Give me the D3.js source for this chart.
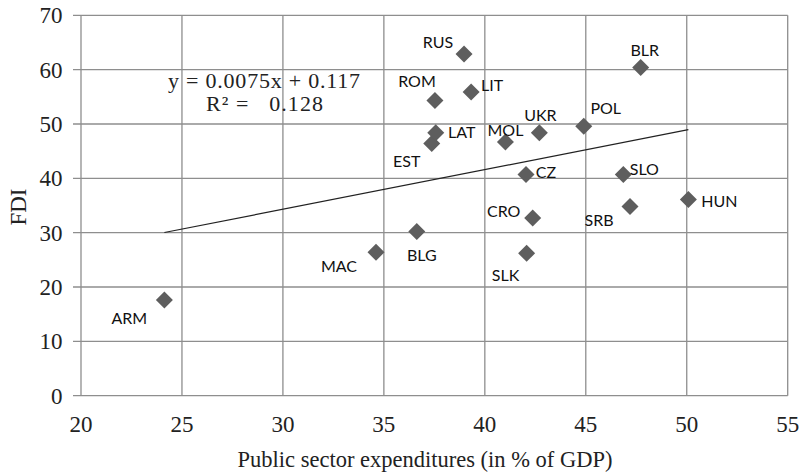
<!DOCTYPE html>
<html>
<head>
<meta charset="utf-8">
<script src="https://cdn.jsdelivr.net/npm/d3@7"></script>
<style>
  html, body { margin: 0; padding: 0; background: #fff; }
  svg { display: block; }
</style>
</head>
<body>
<svg id="chart" width="801" height="472"></svg>
<script>
// ---- data ----
const countries = ["ARM","MAC","BLG","SLK","CRO","CZ","MOL","UKR","EST","LAT","ROM","LIT","RUS","POL","SLO","SRB","BLR","HUN"];
const expenditures = [24.13, 34.61, 36.63, 42.07, 42.37, 42.04, 41.02, 42.70, 37.37, 37.57, 37.53, 39.32, 38.97, 44.90, 46.86, 47.19, 47.72, 50.08];
const fdi = [17.6, 26.4, 30.2, 26.2, 32.7, 40.7, 46.7, 48.4, 46.4, 48.4, 54.3, 55.9, 62.9, 49.6, 40.7, 34.8, 60.4, 36.1];
// label offsets (text centre relative to point, px)
const labelDx = [-35, -37, 5, -21, -29, 20, 0, 1, -25, 26, -18, 21, -26, 22, 21, -31, 4, 31];
const labelDy = [18, 14, 24, 22, -7, -2, -12, -17, 18, 0, -19, -7, -11, -18, -5, 14, -17, 2];
const xTicks = [20, 25, 30, 35, 40, 45, 50, 55];
const yTicks = [0, 10, 20, 30, 40, 50, 60, 70];
const eqLine1 = "y = 0.0075x + 0.117";
const eqLine2 = "R\u00B2 =   0.128";
const xTitle = "Public sector expenditures (in % of GDP)";
const yTitle = "FDI";

// ---- layout ----
const svg = d3.select("#chart");
const x = d3.scaleLinear().domain([20, 55]).range([81, 787.7]);
const y = d3.scaleLinear().domain([0, 70]).range([395.7, 15.3]);
const gridColor = "#8e8e8e";
const serif = "'Liberation Serif', 'Times New Roman', serif";

// gridlines
svg.append("g").selectAll("line").data(yTicks).join("line")
  .attr("x1", 73).attr("x2", x(55))
  .attr("y1", d => y(d)).attr("y2", d => y(d))
  .attr("stroke", gridColor).attr("stroke-width", 1.3);
svg.append("g").selectAll("line").data(xTicks).join("line")
  .attr("x1", d => x(d)).attr("x2", d => x(d))
  .attr("y1", y(70)).attr("y2", y(0))
  .attr("stroke", gridColor).attr("stroke-width", 1.3);

// tick labels
svg.append("g").selectAll("text").data(yTicks).join("text")
  .attr("x", 62.5).attr("y", d => y(d)).attr("dy", "0.35em")
  .attr("text-anchor", "end")
  .style("font-family", serif).style("font-size", "23px").attr("fill", "#222")
  .text(d => d);
svg.append("g").selectAll("text").data(xTicks).join("text")
  .attr("x", d => x(d)).attr("y", 432)
  .attr("text-anchor", "middle")
  .style("font-family", serif).style("font-size", "23px").attr("fill", "#222")
  .text(d => d);

// axis titles
svg.append("text").attr("x", 425).attr("y", 467).attr("text-anchor", "middle")
  .style("font-family", serif).style("font-size", "22.5px").attr("fill", "#222").text(xTitle);
svg.append("text").attr("transform", "translate(26,207) rotate(-90)").attr("text-anchor", "middle")
  .style("font-family", serif).style("font-size", "23px").attr("fill", "#222").text(yTitle);

// trendline: least squares over data
const mx = d3.mean(expenditures), my = d3.mean(fdi);
let sxy = 0, sxx = 0;
expenditures.forEach((v, i) => { sxy += (v - mx) * (fdi[i] - my); sxx += (v - mx) * (v - mx); });
const slope = sxy / sxx, icpt = my - slope * mx;
const [xmin, xmax] = d3.extent(expenditures);
svg.append("line")
  .attr("x1", x(xmin)).attr("y1", y(icpt + slope * xmin))
  .attr("x2", x(xmax)).attr("y2", y(icpt + slope * xmax))
  .attr("stroke", "#222").attr("stroke-width", 1.2);

// equation
svg.append("text").attr("x", 168).attr("y", 88)
  .attr("textLength", 192).attr("lengthAdjust", "spacing")
  .style("font-family", serif).style("font-size", "22px").attr("fill", "#222").text(eqLine1);
svg.append("text").attr("x", 206).attr("y", 111)
  .attr("textLength", 117).attr("lengthAdjust", "spacing")
  .style("font-family", serif).style("font-size", "22px").attr("fill", "#222")
  .style("white-space", "pre").attr("xml:space", "preserve").text(eqLine2);

// points
const pts = countries.map((c, i) => ({ c, x: expenditures[i], y: fdi[i], dx: labelDx[i], dy: labelDy[i] }));
const r = 8.5;
svg.append("g").selectAll("path").data(pts).join("path")
  .attr("d", d => {
    const cx = x(d.x), cy = y(d.y);
    return `M${cx},${cy - r}L${cx + r},${cy}L${cx},${cy + r}L${cx - r},${cy}Z`;
  })
  .attr("fill", "#5e5e5e");

// labels
svg.append("g").selectAll("text").data(pts).join("text")
  .attr("x", d => x(d.x) + d.dx).attr("y", d => y(d.y) + d.dy).attr("dy", "0.35em")
  .attr("text-anchor", "middle")
  .style("font-family", "Lato, 'Open Sans', sans-serif").style("font-size", "16px").attr("fill", "#111")
  .text(d => d.c);
</script>
</body>
</html>
